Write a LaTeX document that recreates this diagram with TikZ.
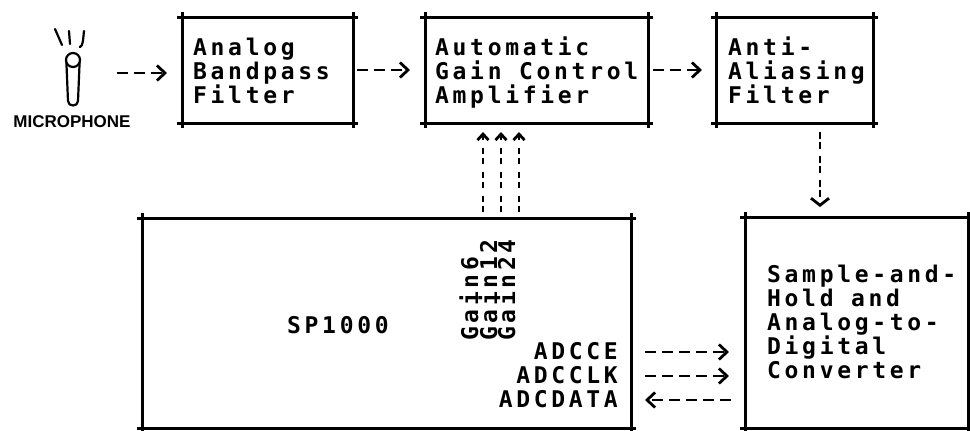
\documentclass[tikz,border=0pt]{standalone}
\usepackage{fontspec}
\newfontfamily\dm[LetterSpace=16]{DejaVu Sans Mono Bold}
\newfontfamily\hand{Liberation Sans Bold}
\usetikzlibrary{arrows.meta}
\newcommand\xbox[1]{%
  \draw[edge] (#1.north west) -- (#1.north east);
  \draw[edge] (#1.south west) -- (#1.south east);
  \draw[edge] (#1.north west) -- (#1.south west);
  \draw[edge] (#1.north east) -- (#1.south east);}
\begin{document}
\begin{tikzpicture}[x=1pt,y=-1pt,
  edge/.style={line width=3pt, shorten <=-5pt, shorten >=-5pt},
  blk/.style={draw=none, inner sep=0pt, outer sep=0pt},
  txt/.style={font=\dm\fontsize{23}{24}\selectfont, inner sep=0pt, align=left, anchor=base west},
  rtxt/.style={font=\dm\fontsize{23}{24}\selectfont, inner sep=0pt, anchor=base east},
  gtxt/.style={font=\dm\fontsize{23}{24}\selectfont, inner sep=0pt, anchor=base west, rotate=90},
  hconn/.style={line width=2.8pt, dash pattern=on 11pt off 6pt, -{Straight Barb[length=8pt,width=15pt]}},
  vconn/.style={line width=2.8pt, dash pattern=on 6.5pt off 3.5pt on 6.5pt off 7.5pt, -{Straight Barb[length=6pt,width=11pt]}},
  dconn/.style={line width=2.8pt, dash pattern=on 6.5pt off 3.5pt on 6.5pt off 7.5pt, -{Straight Barb[length=7pt,width=18pt]}},
  mic/.style={line width=2.2pt, line cap=round, line join=round}]
\useasboundingbox (0,0) rectangle (970,431);
\fill[white] (0,0) rectangle (970,431);

% boxes
\node[blk, minimum width=171pt, minimum height=106pt] (b1) at (267.5,70) {};
\node[blk, minimum width=223pt, minimum height=106pt] (agc) at (536.5,70) {};
\node[blk, minimum width=157pt, minimum height=106pt] (b3) at (794.5,70) {};
\node[blk, minimum width=489pt, minimum height=210pt] (sp) at (386.5,323) {};
\node[blk, minimum width=223pt, minimum height=211pt] (sh) at (856.5,322.5) {};
\xbox{b1}\xbox{agc}\xbox{b3}\xbox{sp}\xbox{sh}

% texts (anchor = baseline of the last line)
\node[txt] (t1) at (193,103) {Analog\\Bandpass\\Filter};
\node[txt] (t2) at (435,103) {Automatic\\Gain Control\\Amplifier};
\node[txt] (t3) at (728,103) {Anti-\\Aliasing\\Filter};
\node[txt] (t5) at (767,378) {Sample-and-\\Hold and\\Analog-to-\\Digital\\Converter};
\node[txt] (t4) at (287,333) {SP1000};
\node[gtxt] (g6) at (478,341) {Gain6};
\node[gtxt] (g12) at (497,341) {Gain12};
\node[gtxt] (g24) at (515,341) {Gain24};
\node[rtxt] (ce) at (618,359) {ADCCE};
\node[rtxt] (clk) at (618,383) {ADCCLK};
\node[rtxt] (dat) at (618,407) {ADCDATA};

% microphone
\node[blk, minimum width=34pt, minimum height=64pt] (mic) at (73,73) {};
\draw[mic] (73,60) circle[radius=7pt];
\draw[mic] (66.4,62.5) -- (68,101) .. controls (68,107) and (78,107) .. (78,101) -- (79.6,62.5);
\draw[mic] (55,29) -- (62,45);
\draw[mic] (69,31) -- (70,44);
\draw[mic] (84,31) .. controls (83,40) and (83,46) .. (80,47);
\node[font=\hand\fontsize{17}{17}\selectfont, inner sep=0pt] (miclbl) at (72,122) {MICROPHONE};

% connectors
\draw[hconn, shorten <=27pt, shorten >=15pt] (mic.east) -- (mic.east -| b1.west);
\draw[hconn, shorten <=4pt, shorten >=15pt] (b1.east) -- (agc.west);
\draw[hconn, shorten <=5pt, shorten >=14pt] (agc.east) -- (b3.west);

\coordinate (ga) at (483,218);
\coordinate (gb) at (501,218);
\coordinate (gc) at (519,218);
\draw[vconn, shorten <=6pt, shorten >=9pt] (ga) -- (ga |- agc.south);
\draw[vconn, shorten <=6pt, shorten >=9pt] (gb) -- (gb |- agc.south);
\draw[vconn, shorten <=6pt, shorten >=9pt] (gc) -- (gc |- agc.south);

\draw[dconn, shorten <=9pt, shorten >=10pt] ([xshift=25.5pt]b3.south) -- ([xshift=25.5pt]b3.south |- sh.north);

\draw[hconn, shorten <=14pt, shorten >=16pt] ([yshift=7pt]ce.base -| sp.east) -- ([yshift=7pt]ce.base -| sh.west);
\draw[hconn, shorten <=14pt, shorten >=16pt] ([yshift=7pt]clk.base -| sp.east) -- ([yshift=7pt]clk.base -| sh.west);
\draw[hconn, shorten <=14pt, shorten >=14pt] ([yshift=7pt]dat.base -| sh.west) -- ([yshift=7pt]dat.base -| sp.east);
\end{tikzpicture}
\end{document}
